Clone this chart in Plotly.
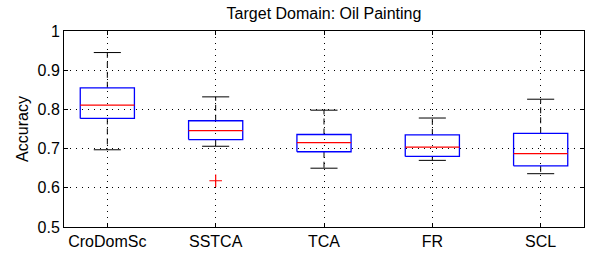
import plotly.graph_objects as go

categories = ["CroDomSc", "SSTCA", "TCA", "FR", "SCL"]
upper_whisker = [0.945, 0.832, 0.798, 0.778, 0.826]
q3 = [0.855, 0.771, 0.736, 0.735, 0.739]
median = [0.811, 0.746, 0.715, 0.704, 0.687]
q1 = [0.777, 0.723, 0.692, 0.680, 0.656]
lower_whisker = [0.697, 0.706, 0.650, 0.670, 0.636]
outlier_cat = ["SSTCA"]
outlier_val = [0.618]
y_ticks = [0.5, 0.6, 0.7, 0.8, 0.9, 1.0]
y_tick_labels = ["0.5", "0.6", "0.7", "0.8", "0.9", "1"]

BOX_HALF = 0.25
CAP_HALF = 0.125

fig = go.Figure()

for i, cat in enumerate(categories):
    x = i + 1
    fig.add_trace(go.Scatter(
        x=[x, x, None, x, x],
        y=[q3[i], upper_whisker[i], None, q1[i], lower_whisker[i]],
        mode="lines", line=dict(color="black", width=1, dash="6px,4px"),
        hoverinfo="skip", showlegend=False))
    fig.add_trace(go.Scatter(
        x=[x - CAP_HALF, x + CAP_HALF, None, x - CAP_HALF, x + CAP_HALF],
        y=[upper_whisker[i], upper_whisker[i], None, lower_whisker[i], lower_whisker[i]],
        mode="lines", line=dict(color="black", width=1),
        hoverinfo="skip", showlegend=False))
    fig.add_trace(go.Scatter(
        x=[x - BOX_HALF, x + BOX_HALF, x + BOX_HALF, x - BOX_HALF, x - BOX_HALF],
        y=[q1[i], q1[i], q3[i], q3[i], q1[i]],
        mode="lines", line=dict(color="#0000ff", width=1.3),
        hoverinfo="skip", showlegend=False))
    fig.add_trace(go.Scatter(
        x=[x - BOX_HALF, x + BOX_HALF],
        y=[median[i], median[i]],
        mode="lines", line=dict(color="#ff0000", width=1.3),
        hoverinfo="skip", showlegend=False))

fig.add_trace(go.Scatter(
    x=[categories.index(c) + 1 for c in outlier_cat], y=outlier_val,
    mode="markers",
    marker=dict(symbol="cross-thin", size=9, line=dict(color="#ff0000", width=1.2)),
    hoverinfo="skip", showlegend=False))

fig.update_layout(
    width=596, height=253,
    margin=dict(l=64, r=12, t=31, b=26, autoexpand=False),
    paper_bgcolor="white", plot_bgcolor="white",
    font=dict(family="Liberation Sans, Arial, sans-serif", color="black", size=16),
    title=dict(text="Target Domain: Oil Painting", x=0.5, xref="paper", xanchor="center",
               y=0.946, yanchor="middle", font=dict(size=16)),
)
fig.update_xaxes(
    range=[0.6, 5.4], tickmode="array",
    tickvals=list(range(1, len(categories) + 1)), ticktext=categories,
    ticks="inside", ticklen=4, tickcolor="black",
    showline=True, linecolor="black", linewidth=1, mirror="ticks",
    showgrid=True, gridcolor="black", griddash="1px,5px", gridwidth=1,
    zeroline=False, tickfont=dict(size=16), automargin=False)
fig.update_yaxes(
    range=[0.5, 1.0], tickmode="array", tickvals=y_ticks, ticktext=y_tick_labels,
    ticks="inside", ticklen=4, tickcolor="black",
    showline=True, linecolor="black", linewidth=1, mirror="ticks",
    showgrid=True, gridcolor="black", griddash="1px,5px", gridwidth=1,
    zeroline=False, tickfont=dict(size=16), automargin=False,
    title=dict(text="Accuracy", font=dict(size=16), standoff=4))

fig.write_html("out.html", config={"displayModeBar": False},
               post_script="document.body.style.margin='0';")
